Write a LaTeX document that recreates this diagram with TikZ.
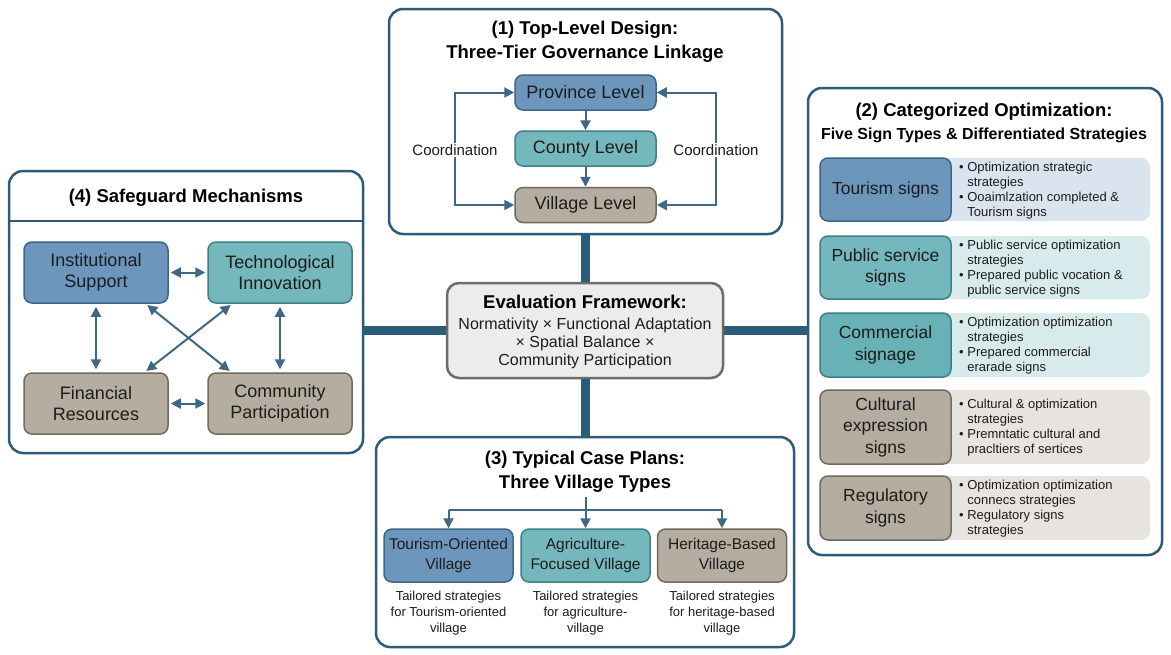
\documentclass[tikz,border=0pt]{standalone}
\usepackage{fontspec}
\setmainfont{Liberation Sans}
\usetikzlibrary{arrows.meta}
\definecolor{frameC}{HTML}{2E5B75}
\definecolor{connC}{HTML}{2B5C7A}
\definecolor{arrC}{HTML}{3E6883}
\definecolor{blueF}{HTML}{6D96BC}
\definecolor{blueD}{HTML}{3C6586}
\definecolor{tealF}{HTML}{74B7BC}
\definecolor{tealD}{HTML}{3E7F88}
\definecolor{taupeF}{HTML}{B5AD9F}
\definecolor{taupeD}{HTML}{6F6A60}
\definecolor{evalF}{HTML}{ECECEA}
\definecolor{evalD}{HTML}{6C6C6C}
\definecolor{pBlue}{HTML}{D9E4EE}
\definecolor{pTeal}{HTML}{D7EBEC}
\definecolor{pTaupe}{HTML}{E7E4E0}
\definecolor{txt}{HTML}{1C1C1C}
\tikzset{
 frame/.style={draw=frameC, line width=2.5pt, rounded corners=14pt, fill=white},
 nbox/.style={line width=1.5pt, rounded corners=8pt, align=center, text=txt, inner sep=2pt},
 bluebox/.style={nbox, draw=blueD, fill=blueF},
 tealbox/.style={nbox, draw=tealD, fill=tealF},
 taupebox/.style={nbox, draw=taupeD, fill=taupeF},
 ttl/.style={font=\bfseries\fontsize{18.5}{24}\selectfont, align=center, text=black},
 arr/.style={draw=arrC, line width=2pt, -{Triangle[length=10pt,width=10pt]}},
 darr/.style={draw=arrC, line width=2pt, {Triangle[length=10pt,width=10pt]}-{Triangle[length=10pt,width=10pt]}},
 pline/.style={draw=arrC, line width=2pt},
 conn/.style={draw=connC, line width=9pt},
 panel/.style={rounded corners=9pt, minimum width=220pt},
 strat/.style={font=\fontsize{13}{15}\selectfont, align=left, anchor=west, text=txt, inner sep=0pt},
 lvl/.style={minimum width=141pt, minimum height=35pt, font=\fontsize{18}{21}\selectfont},
 sign/.style={minimum width=131pt, font=\fontsize{17.5}{21.5}\selectfont},
 safe/.style={minimum width=144pt, minimum height=61pt, font=\fontsize{18}{20.5}\selectfont},
 vil/.style={minimum width=129pt, minimum height=53pt, font=\fontsize{15.5}{19.5}\selectfont},
 captxt/.style={font=\fontsize{13}{16}\selectfont, align=center, text=txt},
}
\begin{document}
\begin{tikzpicture}[x=1pt,y=-1pt]
\useasboundingbox[fill=white] (0,0) rectangle (1171,654);

% ---------- frames ----------
\node[frame, minimum width=393pt, minimum height=225pt] (f1) at (585.5,121.5) {};
\node[frame, minimum width=354pt, minimum height=467pt] (f2) at (985,321.5) {};
\node[frame, minimum width=418pt, minimum height=210pt] (f3) at (585,542) {};
\node[frame, minimum width=354pt, minimum height=282pt] (f4) at (186,312) {};
\node[draw=evalD, fill=evalF, line width=2.5pt, rounded corners=12pt, minimum width=276pt, minimum height=95pt] (eval) at (585,330.5) {};

% ---------- thick connectors ----------
\draw[conn] (eval.north) -- (eval.north |- f1.south);
\draw[conn] (eval.south) -- (eval.south |- f3.north);
\draw[conn] (eval.west) -- (eval.west -| f4.east);
\draw[conn] (eval.east) -- (eval.east -| f2.west);

% ---------- evaluation framework ----------
\node[font=\bfseries\fontsize{18.5}{22}\selectfont] (evt) at (585,302) {Evaluation Framework:};
\node[font=\fontsize{16}{18}\selectfont, align=center, text=txt] (evb) at (585,343) {Normativity × Functional Adaptation\\× Spatial Balance ×\\Community Participation};

% ---------- (1) top-level design ----------
\node[ttl] (t1) at (585,42) {(1) Top-Level Design:\\Three-Tier Governance Linkage};
\node[bluebox, lvl] (prov) at (585.5,92.5) {Province Level};
\node[tealbox, lvl] (cnty) at (585.5,148.5) {County Level};
\node[taupebox, lvl] (vill) at (585.5,205) {Village Level};
\draw[arr] (prov) -- (cnty);
\draw[arr] (cnty) -- (vill);
\coordinate (cl) at (455,0);
\coordinate (cr) at (716,0);
\draw[darr] (prov.west) -- (prov.west -| cl) -- (vill.west -| cl) -- (vill.west);
\draw[darr] (prov.east) -- (prov.east -| cr) -- (vill.east -| cr) -- (vill.east);
\node[fill=white, font=\fontsize{15}{18}\selectfont, text=txt, inner sep=1pt] (coL) at (455,150) {Coordination};
\node[fill=white, font=\fontsize{15}{18}\selectfont, text=txt, inner sep=1pt] (coR) at (716,150) {Coordination};

% ---------- (2) categorized optimization ----------
\node[font=\bfseries\fontsize{18.5}{22}\selectfont] (t2a) at (984,112) {(2) Categorized Optimization:};
\node[font=\bfseries\fontsize{16}{20}\selectfont] (t2b) at (984,135) {Five Sign Types \& Differentiated Strategies};

\node[panel, fill=pBlue, minimum height=63pt] (p1) at (1040,189.5) {};
\node[panel, fill=pTeal, minimum height=63pt] (p2) at (1040,267.5) {};
\node[panel, fill=pTeal, minimum height=64pt] (p3) at (1040,345) {};
\node[panel, fill=pTaupe, minimum height=74pt] (p4) at (1040,427) {};
\node[panel, fill=pTaupe, minimum height=64pt] (p5) at (1040,508) {};

\node[bluebox, sign, minimum height=63pt] (s1) at (885.5,189.5) {Tourism signs};
\node[tealbox, sign, minimum height=63pt] (s2) at (885.5,267.5) {Public service\\signs};
\node[tealbox, sign, minimum height=64pt, fill=tealF!90!teal] (s3) at (885.5,345) {Commercial\\signage};
\node[taupebox, sign, minimum height=74pt] (s4) at (885.5,427) {Cultural\\expression\\signs};
\node[taupebox, sign, minimum height=64pt] (s5) at (885.5,508) {Regulatory\\signs};

\node[strat] (d1) at (959,190.5) {• Optimization strategic\\\hphantom{• }strategies\\• Ooaimlzation completed \&\\\hphantom{• }Tourism signs};
\node[strat] (d2) at (959,268.5) {• Public service optimization\\\hphantom{• }strategies\\• Prepared public vocation \&\\\hphantom{• }public service signs};
\node[strat] (d3) at (959,346) {• Optimization optimization\\\hphantom{• }strategies\\• Prepared commercial\\\hphantom{• }erarade signs};
\node[strat] (d4) at (959,428) {• Cultural \& optimization\\\hphantom{• }strategies\\• Premntatic cultural and\\\hphantom{• }pracltiers of sertices};
\node[strat] (d5) at (959,509) {• Optimization optimization\\\hphantom{• }connecs strategies\\• Regulatory signs\\\hphantom{• }strategies};

% ---------- (4) safeguard mechanisms ----------
\node[ttl] (t4) at (186,198) {(4) Safeguard Mechanisms};
\draw[draw=frameC, line width=2.5pt] (f4.west |- 0,221) -- (f4.east |- 0,221);
\node[bluebox, safe] (ins) at (96,272.5) {Institutional\\Support};
\node[tealbox, safe] (tec) at (280,272.5) {Technological\\Innovation};
\node[taupebox, safe] (fin) at (96,403.5) {Financial\\Resources};
\node[taupebox, safe] (com) at (280,403.5) {Community\\Participation};
\draw[darr, shorten <=2pt, shorten >=2pt] (ins) -- (tec);
\draw[darr, shorten <=2pt, shorten >=2pt] (fin) -- (com);
\draw[darr, shorten <=3pt, shorten >=3pt] (ins) -- (fin);
\draw[darr, shorten <=3pt, shorten >=3pt] (tec) -- (com);
\draw[darr, shorten <=2pt, shorten >=2pt] ([xshift=-23pt]ins.south east) -- ([xshift=24pt]com.north west);
\draw[darr, shorten <=2pt, shorten >=2pt] ([xshift=25pt]tec.south west) -- ([xshift=-24pt]fin.north east);

% ---------- (3) typical case plans ----------
\node[ttl] (t3) at (585,472) {(3) Typical Case Plans:\\Three Village Types};
\node[bluebox, vil] (v1) at (448.5,555.5) {Tourism-Oriented\\Village};
\node[tealbox, vil] (v2) at (585.5,555.5) {Agriculture-\\Focused Village};
\node[taupebox, vil] (v3) at (722,555.5) {Heritage-Based\\Village};
\coordinate (ts) at (585.5,497);
\coordinate (tj) at (585.5,510);
\draw[pline] (v1.north |- tj) -- (v3.north |- tj);
\draw[arr] (ts) -- (v2.north);
\draw[arr] (v1.north |- tj) -- (v1.north);
\draw[arr] (v3.north |- tj) -- (v3.north);
\node[captxt] (c1) at (448.5,613) {Tailored strategies\\for Tourism-oriented\\village};
\node[captxt] (c2) at (585.5,613) {Tailored strategies\\for agriculture-\\village};
\node[captxt] (c3) at (722,613) {Tailored strategies\\for heritage-based\\village};
\end{tikzpicture}
\end{document}
